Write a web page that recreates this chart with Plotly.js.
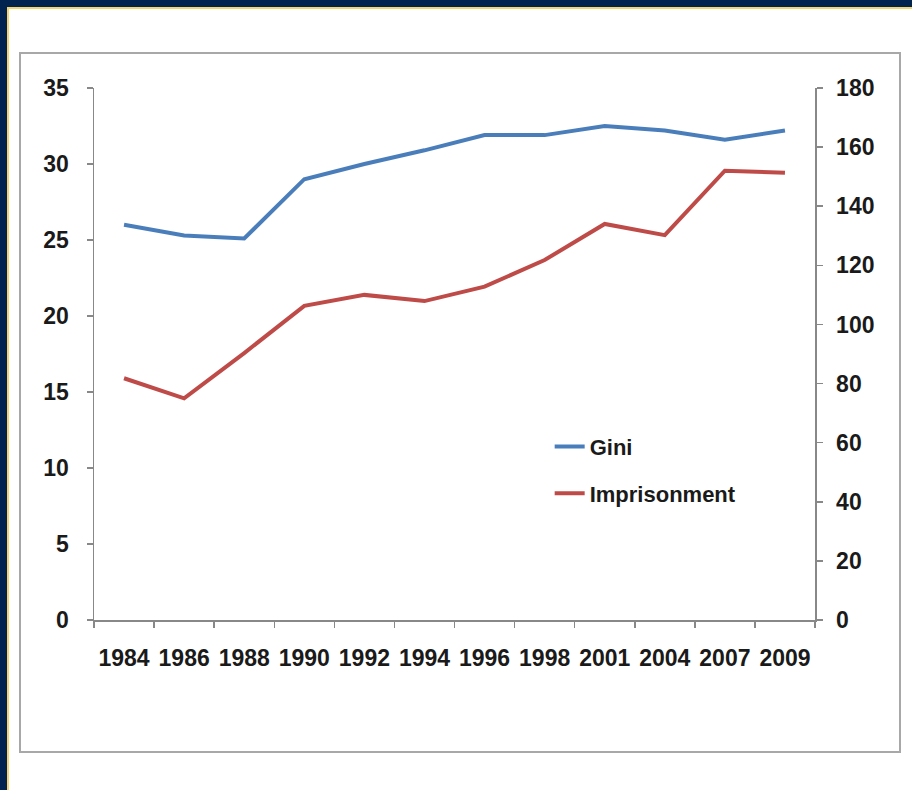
<!DOCTYPE html>
<html>
<head>
<meta charset="utf-8">
<script src="https://cdn.plot.ly/plotly-3.0.1.min.js"></script>
<style>
  html, body { margin: 0; padding: 0; background: #ffffff; }
  #wrap { position: relative; width: 912px; height: 790px; overflow: hidden; background: #ffffff; }
  .b { position: absolute; }
  #navyTop { left: 0; top: 0; width: 912px; height: 7px; background: #012350; }
  #navyLeft { left: 0; top: 0; width: 7px; height: 790px; background: #012350; }
  #yelTop { left: 7px; top: 7px; width: 905px; height: 2px; background: #f6d36b; }
  #yelLeft { left: 7px; top: 7px; width: 2px; height: 783px; background: #f6d36b; }
  #box { left: 19px; top: 52px; width: 878px; height: 697px; border: 2px solid #a8a8a8; }
  #chart { position: absolute; left: 0; top: 0; width: 912px; height: 790px; }
</style>
</head>
<body>
<div id="wrap">
  <div class="b" id="navyTop"></div>
  <div class="b" id="navyLeft"></div>
  <div class="b" id="yelTop"></div>
  <div class="b" id="yelLeft"></div>
  <div class="b" id="box"></div>
  <div id="chart"></div>
</div>
<script>
const years = ["1984","1986","1988","1990","1992","1994","1996","1998","2001","2004","2007","2009"];
const gini = [26.0, 25.3, 25.1, 29.0, 30.0, 30.9, 31.9, 31.9, 32.5, 32.2, 31.6, 32.2];
const imprisonment = [81.8, 75.0, 90.3, 106.3, 110.0, 107.9, 112.8, 121.8, 134.0, 130.2, 152.0, 151.3];
const leftTicks = [0, 5, 10, 15, 20, 25, 30, 35];
const rightTicks = [0, 20, 40, 60, 80, 100, 120, 140, 160, 180];

const tickFont = { family: "Liberation Sans, Arial, sans-serif", size: 23, color: "#1a1a1a", weight: 700 };
const legendFont = { family: "Liberation Sans, Arial, sans-serif", size: 22, color: "#1a1a1a", weight: 700 };
const axisColor = "#888888";

const traces = [
  { x: years, y: gini, name: "Gini", type: "scatter", mode: "lines",
    line: { color: "#4A7EBB", width: 4 }, legendgroup: "g1", yaxis: "y" },
  { x: years, y: imprisonment, name: "Imprisonment", type: "scatter", mode: "lines",
    line: { color: "#BE4B48", width: 4 }, legendgroup: "g2", yaxis: "y2" }
];

const layout = {
  width: 912, height: 790,
  paper_bgcolor: "rgba(0,0,0,0)",
  plot_bgcolor: "rgba(0,0,0,0)",
  margin: { l: 93.5, r: 97, t: 88, b: 170, pad: 0 },
  showlegend: true,
  legend: {
    x: 0.632, xanchor: "left", y: 0.365, yanchor: "top",
    bgcolor: "rgba(0,0,0,0)", borderwidth: 0,
    font: legendFont, tracegroupgap: 15, itemwidth: 30
  },
  xaxis: {
    type: "category", range: [-0.5, 11.5],
    tickvals: years, ticktext: years, tickangle: 0,
    showline: true, linecolor: axisColor, linewidth: 1.5,
    ticks: "outside", ticklen: 6, tickcolor: axisColor, tickwidth: 1.5,
    tickson: "boundaries",
    showgrid: false, zeroline: false,
    tickfont: tickFont, ticklabelstandoff: 17, fixedrange: true
  },
  yaxis: {
    range: [0, 35], tickvals: leftTicks, ticktext: leftTicks.map(String),
    showline: true, linecolor: axisColor, linewidth: 1.5,
    ticks: "outside", ticklen: 6, tickcolor: axisColor, tickwidth: 1.5,
    showgrid: false, zeroline: false,
    tickfont: tickFont, ticklabelstandoff: 13, fixedrange: true
  },
  yaxis2: {
    range: [0, 180], tickvals: rightTicks, ticktext: rightTicks.map(String),
    overlaying: "y", side: "right", anchor: "x",
    showline: true, linecolor: axisColor, linewidth: 1.5,
    ticks: "outside", ticklen: 6, tickcolor: axisColor, tickwidth: 1.5,
    showgrid: false, zeroline: false,
    tickfont: tickFont, ticklabelstandoff: 9, fixedrange: true
  }
};

Plotly.newPlot("chart", traces, layout, { displayModeBar: false, staticPlot: true });
</script>
</body>
</html>
